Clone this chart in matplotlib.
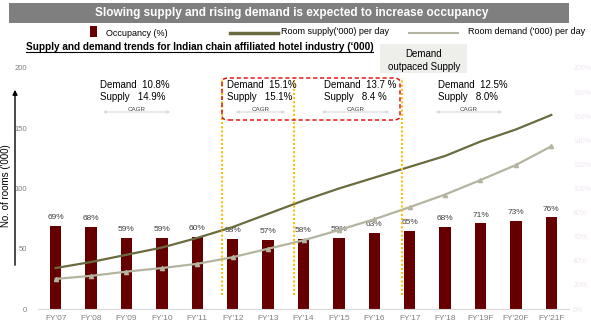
import matplotlib
matplotlib.use("Agg")
import matplotlib.pyplot as plt
from matplotlib.patches import FancyBboxPatch, Rectangle
from matplotlib.lines import Line2D

plt.rcParams['font.family'] = ['Liberation Sans', 'DejaVu Sans']

years = ["FY'07", "FY'08", "FY'09", "FY'10", "FY'11", "FY'12", "FY'13", "FY'14",
         "FY'15", "FY'16", "FY'17", "FY'18", "FY'19F", "FY'20F", "FY'21F"]
occupancy = [69, 68, 59, 59, 60, 58, 57, 58, 59, 63, 65, 68, 71, 73, 76]
supply = [34, 39, 45, 51, 59, 68, 79, 90, 100, 109, 118, 127, 139, 149, 161]
demand = [25, 27.5, 31, 34, 37.5, 43, 50, 57, 65.5, 74.5, 84.5, 95, 107, 119.5, 135]

cagr_blocks = [
    ("Demand  10.8%", "Supply   14.9%"),
    ("Demand  15.1%", "Supply   15.1%"),
    ("Demand  13.7 %", "Supply   8.4 %"),
    ("Demand  12.5%", "Supply   8.0%"),
]

W, H = 591, 330
MAROON = '#660000'
OLIVE = '#6b6b40'
LIGHT = '#b4b4a0'
GREY = '#7f7f7f'


def px(x, y):
    # pixel position (from top-left) to figure fraction
    return x / W, 1 - y / H


fig = plt.figure(figsize=(W / 100, H / 100), dpi=100)
ax = fig.add_axes([38 / W, 1 - 309 / H, (569 - 38) / W, (309 - 68) / H])
ax2 = ax.twinx()

xs = list(range(len(years)))
ax2.bar(xs, occupancy, width=0.32, color=MAROON, zorder=1)
for i, v in enumerate(occupancy):
    ax2.text(i, v + 4, "{}%".format(v), ha='center', va='bottom', fontsize=6, color='#404040')
ax2.set_ylim(0, 200)
ax2.set_yticks(range(0, 201, 20))
ax2.set_yticklabels(["{}%".format(t) for t in range(0, 201, 20)], fontsize=5, color='#f0e6f0')
ax2.tick_params(axis='y', length=0, pad=3)

ax.set_zorder(ax2.get_zorder() + 1)
ax.patch.set_visible(False)
ax.plot(xs, supply, color=OLIVE, lw=1.6)
ax.plot(xs, demand, color=LIGHT, lw=1.6, marker='^', ms=3)
ax.set_ylim(0, 200)
ax.set_xlim(-0.5, 14.5)
ax.set_yticks([0, 50, 100, 150, 200])
ax.tick_params(axis='y', length=0, labelsize=5.5, labelcolor=GREY, pad=8)
ax.set_xticks(xs)
ax.set_xticklabels(years, fontsize=6, color=GREY)
ax.tick_params(axis='x', length=0, pad=4)

for a in (ax, ax2):
    for s in a.spines.values():
        s.set_visible(False)
ax.spines['bottom'].set_visible(True)
ax.spines['bottom'].set_color('#d9d9d9')

# orange dotted separators
for xv in (4.7, 6.73, 9.78):
    ax.plot([xv, xv], [12, 192], color='#ffc000', lw=1.5, ls=(0, (1, 1)), zorder=5)

# title banner
fig.patches.append(Rectangle(px(9, 23), 560 / W, 20 / H, transform=fig.transFigure,
                             facecolor='#7f7f7f', edgecolor='none'))
fig.text(*px(292, 13), "Slowing supply and rising demand is expected to increase occupancy",
         ha='center', va='center', color='white', fontsize=8.5, fontweight='bold')

# legend
fig.patches.append(Rectangle(px(90, 37), 7 / W, 11 / H, transform=fig.transFigure,
                             facecolor=MAROON, edgecolor='none'))
fig.text(*px(106, 33), "Occupancy (%)", ha='left', va='center', fontsize=6.5)
fig.lines.append(Line2D([230 / W, 278 / W], [1 - 33 / H] * 2, transform=fig.transFigure,
                        color=OLIVE, lw=2.5))
fig.text(*px(281, 32), "Room supply('000) per day", ha='left', va='center', fontsize=6.5)
fig.lines.append(Line2D([409 / W, 458 / W], [1 - 33 / H] * 2, transform=fig.transFigure,
                        color=LIGHT, lw=1.5))
fig.text(*px(468, 32), "Room demand ('000) per day", ha='left', va='center', fontsize=6.5)

# subtitle
fig.text(*px(26, 47), "Supply and demand trends for Indian chain affiliated hotel industry (\u2018000)",
         ha='left', va='center', fontsize=7.2, fontweight='bold')
fig.lines.append(Line2D([26 / W, 373 / W], [1 - 52 / H] * 2, transform=fig.transFigure,
                        color='black', lw=0.8))

# demand outpaced supply box
fig.patches.append(Rectangle(px(380, 73), 87 / W, 29 / H, transform=fig.transFigure,
                             facecolor='#eeeeea', edgecolor='none'))
fig.text(*px(424, 54), "Demand", ha='center', va='center', fontsize=7)
fig.text(*px(424, 67), "outpaced Supply", ha='center', va='center', fontsize=7)

# red dashed rounded box
fig.patches.append(FancyBboxPatch(px(222, 120), 178 / W, 42 / H, transform=fig.transFigure,
                                  boxstyle='round,pad=0,rounding_size=0.012',
                                  facecolor='none', edgecolor='#e00000', lw=1.0, ls=(0, (3, 2))))

# CAGR annotations
text_x = [100, 227, 324, 438]
arrow_x = [(100, 173), (233, 288), (319, 392), (433, 505)]
for (d, s), tx, (a0, a1) in zip(cagr_blocks, text_x, arrow_x):
    fig.text(*px(tx, 85), d, ha='left', va='center', fontsize=7)
    fig.text(*px(tx, 97), s, ha='left', va='center', fontsize=7)
    fig.text(*px((a0 + a1) / 2, 109.5), "CAGR", ha='center', va='center', fontsize=4.5, color='#404040')
    ax.annotate('', xy=px(a1, 112), xytext=px(a0, 112), xycoords='figure fraction',
                textcoords='figure fraction',
                arrowprops=dict(arrowstyle='<|-|>', color='#d9d9d9', lw=0.8, mutation_scale=4))

# y-axis label with arrow
ax.annotate('', xy=px(15, 87), xytext=px(15, 268), xycoords='figure fraction',
            textcoords='figure fraction',
            arrowprops=dict(arrowstyle='-|>', color='black', lw=1.0, mutation_scale=7))
fig.text(*px(6, 186), "No. of rooms ('000)", rotation=90, ha='center', va='center', fontsize=7)

fig.savefig("out.png", dpi=100)
